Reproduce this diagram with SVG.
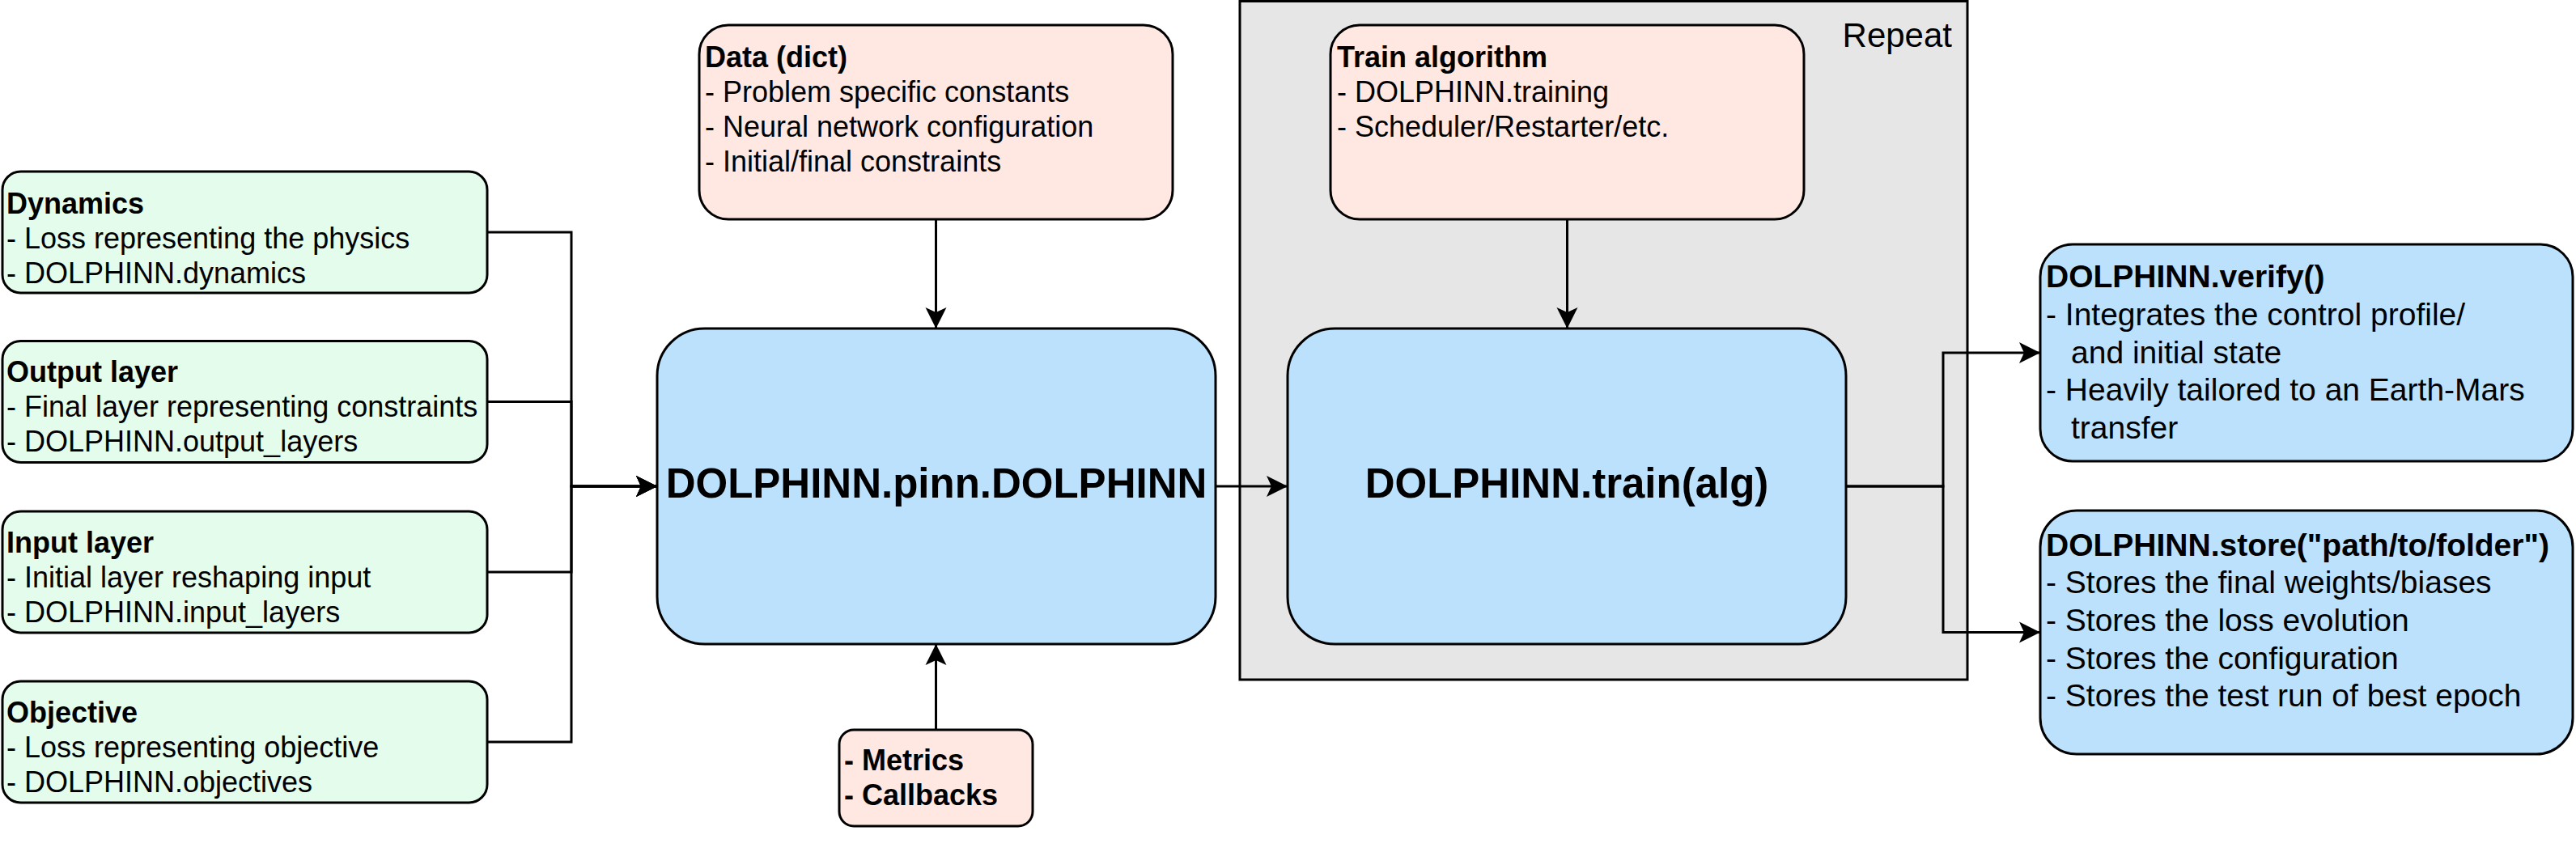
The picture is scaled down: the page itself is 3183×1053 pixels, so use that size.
<svg xmlns="http://www.w3.org/2000/svg" width="3183" height="1053" viewBox="0 0 3183 1053">
<style>
  text { font-family: "Liberation Sans", Arial, Helvetica, sans-serif; fill: #000; }
  .t36 { font-size: 36px; }
  .t39 { font-size: 39px; }
  .b { font-weight: bold; }
  .big { font-size: 51px; font-weight: bold; text-anchor: middle; }
  .box { stroke: #000; stroke-width: 3; }
  .green { fill: #E4FCEB; }
  .peach { fill: #FFE8E1; }
  .blue { fill: #BBE1FC; }
  .edge { fill: none; stroke: #000; stroke-width: 3; }
</style>
<defs>
  <marker id="arrow" markerUnits="userSpaceOnUse" markerWidth="30" markerHeight="30" refX="26" refY="13" orient="auto" overflow="visible">
    <path d="M26,13 L0,0 L6,13 L0,26 Z" fill="#000"/>
  </marker>
</defs>
<rect width="3183" height="1053" fill="#fff"/>

<g id="repeat">
  <rect x="1532" y="1.5" width="899" height="838.5" fill="#E6E6E6" stroke="#000" stroke-width="3"/>
  <text x="2412" y="58" font-size="42" text-anchor="end">Repeat</text>
</g>

<g id="connectors">
  <path class="edge" d="M602,287 H706 V601 H812" marker-end="url(#arrow)"/>
  <path class="edge" d="M602,496.5 H706 V601 H812" marker-end="url(#arrow)"/>
  <path class="edge" d="M602,707 H706 V601 H812" marker-end="url(#arrow)"/>
  <path class="edge" d="M602,917 H706 V601 H812" marker-end="url(#arrow)"/>
  <path class="edge" d="M1156.5,271 V406" marker-end="url(#arrow)"/>
  <path class="edge" d="M1156.5,902 V796" marker-end="url(#arrow)"/>
  <path class="edge" d="M1502,601 H1591" marker-end="url(#arrow)"/>
  <path class="edge" d="M1936.5,271 V406" marker-end="url(#arrow)"/>
  <path class="edge" d="M2281,601 H2401 V436 H2521" marker-end="url(#arrow)"/>
  <path class="edge" d="M2281,601 H2401 V781.5 H2521" marker-end="url(#arrow)"/>
</g>

<g id="dynamics">
  <rect class="box green" x="3" y="212" width="599" height="150" rx="22.5"/>
  <text class="t36" x="8" y="264"><tspan class="b">Dynamics</tspan><tspan x="8" y="307">- Loss representing the physics</tspan><tspan x="8" y="350">- DOLPHINN.dynamics</tspan></text>
</g>
<g id="output-layer">
  <rect class="box green" x="3" y="421.5" width="599" height="150" rx="22.5"/>
  <text class="t36" x="8" y="472"><tspan class="b">Output layer</tspan><tspan x="8" y="515">- Final layer representing constraints</tspan><tspan x="8" y="558">- DOLPHINN.output_layers</tspan></text>
</g>
<g id="input-layer">
  <rect class="box green" x="3" y="632" width="599" height="150" rx="22.5"/>
  <text class="t36" x="8" y="683"><tspan class="b">Input layer</tspan><tspan x="8" y="726">- Initial layer reshaping input</tspan><tspan x="8" y="769">- DOLPHINN.input_layers</tspan></text>
</g>
<g id="objective">
  <rect class="box green" x="3" y="842" width="599" height="150" rx="22.5"/>
  <text class="t36" x="8" y="893"><tspan class="b">Objective</tspan><tspan x="8" y="936">- Loss representing objective</tspan><tspan x="8" y="979">- DOLPHINN.objectives</tspan></text>
</g>

<g id="data">
  <rect class="box peach" x="864" y="31" width="585" height="240" rx="36"/>
  <text class="t36" x="871" y="83"><tspan class="b">Data (dict)</tspan><tspan x="871" y="126">- Problem specific constants</tspan><tspan x="871" y="169">- Neural network configuration</tspan><tspan x="871" y="212">- Initial/final constraints</tspan></text>
</g>

<g id="pinn">
  <rect class="box blue" x="812" y="406" width="690" height="390" rx="58.5"/>
  <text class="big" x="1157" y="615">DOLPHINN.pinn.DOLPHINN</text>
</g>

<g id="metrics">
  <rect class="box peach" x="1037" y="902" width="239" height="119" rx="18"/>
  <text class="t36 b" x="1043" y="952">- Metrics<tspan x="1043" y="995">- Callbacks</tspan></text>
</g>

<g id="train-algorithm">
  <rect class="box peach" x="1644" y="31" width="585" height="240" rx="36"/>
  <text class="t36" x="1652" y="83"><tspan class="b">Train algorithm</tspan><tspan x="1652" y="126">- DOLPHINN.training</tspan><tspan x="1652" y="169">- Scheduler/Restarter/etc.</tspan></text>
</g>

<g id="train">
  <rect class="box blue" x="1591" y="406" width="690" height="390" rx="58.5"/>
  <text class="big" x="1936" y="615">DOLPHINN.train(alg)</text>
</g>

<g id="verify">
  <rect class="box blue" x="2521" y="302" width="658" height="268" rx="40"/>
  <text class="t39" x="2528" y="355"><tspan class="b">DOLPHINN.verify()</tspan><tspan x="2528" y="402">- Integrates the control profile/</tspan><tspan x="2559" y="449">and initial state</tspan><tspan x="2528" y="495">- Heavily tailored to an Earth-Mars</tspan><tspan x="2559" y="542">transfer</tspan></text>
</g>

<g id="store">
  <rect class="box blue" x="2521" y="631" width="658" height="301" rx="45"/>
  <text class="t39" x="2528" y="687"><tspan class="b">DOLPHINN.store("path/to/folder")</tspan><tspan x="2528" y="733">- Stores the final weights/biases</tspan><tspan x="2528" y="780">- Stores the loss evolution</tspan><tspan x="2528" y="827">- Stores the configuration</tspan><tspan x="2528" y="873">- Stores the test run of best epoch</tspan></text>
</g>
</svg>
